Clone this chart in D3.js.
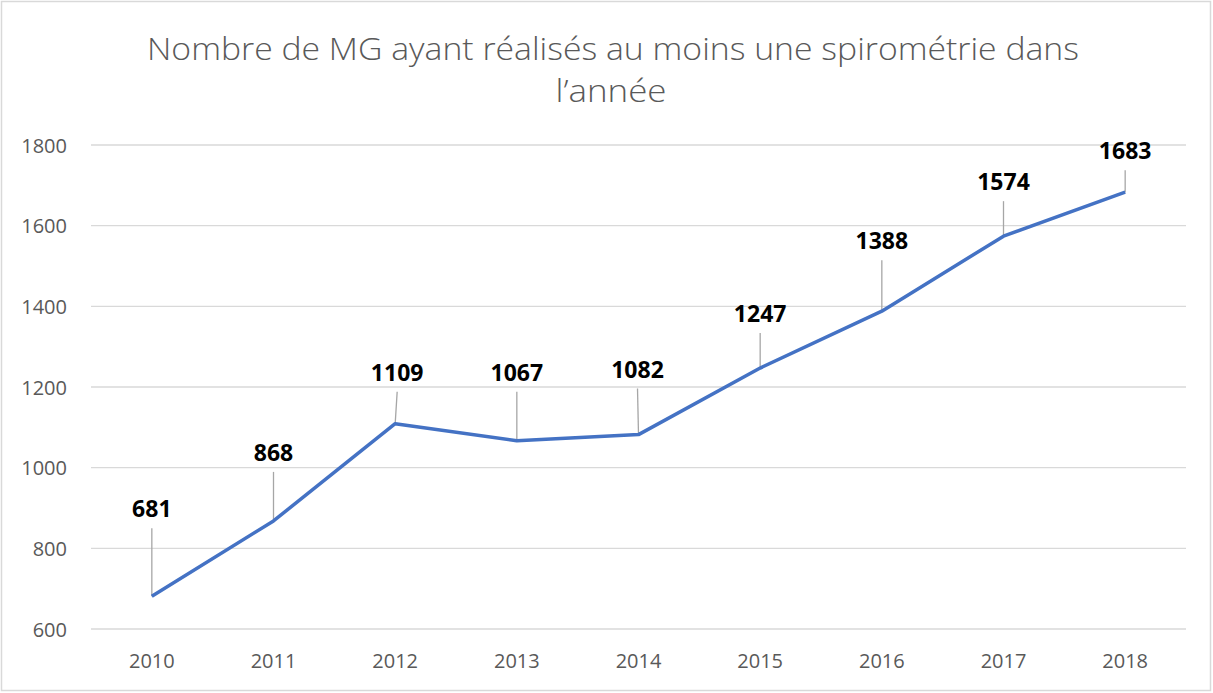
<!DOCTYPE html>
<html>
<head>
<meta charset="utf-8">
<script src="https://cdn.jsdelivr.net/npm/d3@7"></script>
<style>
  body { margin: 0; background: #fff; }
  svg { display: block; }
</style>
</head>
<body>
<div id="chart"></div>
<script>
// data
var years = ['2010', '2011', '2012', '2013', '2014', '2015', '2016', '2017', '2018'];
var values = [681, 868, 1109, 1067, 1082, 1247, 1388, 1574, 1683];
var yTicks = [600, 800, 1000, 1200, 1400, 1600, 1800];

// callout layout (leader line length in px, label shift in px) - not data
var calloutLift = [68, 49, 32, 49, 46, 35, 51, 35, 22];
var calloutShift = [0, 0, 2, 0, -1, 0, 0, 0, 0];

var W = 1213, H = 693
  , margin = {top: 145, left: 91, bottom: 64, right: 27};

var svg = d3.select('#chart').append('svg')
    .attr('width', W).attr('height', H);

svg.append('rect')
    .attr('x', 1.5).attr('y', 1.5)
    .attr('width', W - 4).attr('height', H - 4)
    .attr('fill', '#fff').attr('stroke', '#d9d9d9').attr('stroke-width', 1.5);

var title = svg.append('g').classed('title', true)
    .attr('font-family', 'Open Sans, sans-serif')
    .attr('font-weight', 300)
    .attr('fill', '#595959')
    .attr('text-anchor', 'middle');
title.append('text').attr('x', 613).attr('y', 60).attr('font-size', 32)
    .attr('textLength', 932).attr('lengthAdjust', 'spacingAndGlyphs')
    .text('Nombre de MG ayant réalisés au moins une spirométrie dans');
title.append('text').attr('x', 611).attr('y', 102).attr('font-size', 32)
    .attr('textLength', 111).attr('lengthAdjust', 'spacingAndGlyphs')
    .text('l\u2019année');

var x = d3.scaleBand().domain(years).range([margin.left, W - margin.right])
  , y = d3.scaleLinear().domain([600, 1800]).range([H - margin.bottom, margin.top]);

// grid
svg.append('g').classed('grid', true)
  .selectAll('line').data(yTicks).enter().append('line')
    .attr('x1', margin.left).attr('x2', W - margin.right)
    .attr('y1', function(d){ return y(d); })
    .attr('y2', function(d){ return y(d); })
    .attr('stroke', '#d9d9d9').attr('stroke-width', 1.3);

var yaxis = svg.append('g').classed('yaxis', true)
    .attr('transform', 'translate(' + [margin.left - 24, 0] + ')')
    .call(d3.axisLeft(y).tickValues(yTicks).tickFormat(d3.format('d')).tickSize(0).tickPadding(0));
var xaxis = svg.append('g').classed('xaxis', true)
    .attr('transform', 'translate(' + [0, H - margin.bottom + 39] + ')')
    .call(d3.axisBottom(x).tickSize(0).tickPadding(0));

[yaxis, xaxis].forEach(function(a){
  a.attr('font-size', null).attr('font-family', null);
  a.select('.domain').remove();
  a.selectAll('text')
    .attr('font-family', 'Open Sans, sans-serif')
    .attr('font-size', 20)
    .attr('fill', '#595959');
});
yaxis.selectAll('text').attr('dy', '0.36em');
xaxis.selectAll('text').attr('dy', 0);

var pts = years.map(function(yr, i){
  return {year: yr, value: values[i], lift: calloutLift[i], shift: calloutShift[i]};
});
var cx = function(d){ return x(d.year) + x.bandwidth() / 2; };

// leader lines
svg.append('g').classed('leaders', true)
  .selectAll('line').data(pts).enter().append('line')
    .attr('x1', cx)
    .attr('x2', function(d){ return cx(d) + d.shift; })
    .attr('y1', function(d){ return y(d.value); })
    .attr('y2', function(d){ return y(d.value) - d.lift; })
    .attr('stroke', '#a6a6a6').attr('stroke-width', 1.3);

svg.append('path').datum(pts)
    .attr('fill', 'none')
    .attr('stroke', '#4472c4')
    .attr('stroke-width', 3.5)
    .attr('stroke-linejoin', 'round')
    .attr('d', d3.line().x(cx).y(function(d){ return y(d.value); }));

svg.append('g').classed('labels', true)
  .selectAll('text').data(pts).enter().append('text')
    .attr('x', function(d){ return cx(d) + d.shift; })
    .attr('y', function(d){ return y(d.value) - d.lift - 11; })
    .attr('text-anchor', 'middle')
    .attr('font-family', 'Open Sans, sans-serif')
    .attr('font-weight', 700)
    .attr('font-size', 23)
    .attr('fill', '#000')
    .text(function(d){ return d.value; });
</script>
</body>
</html>
